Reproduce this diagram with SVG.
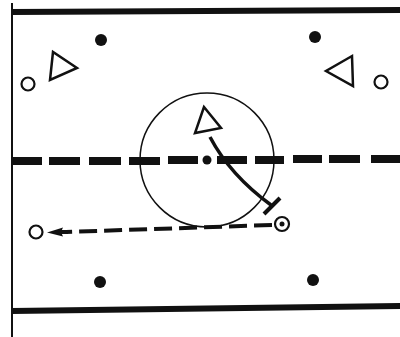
<svg xmlns="http://www.w3.org/2000/svg" width="400" height="337" viewBox="0 0 400 337">
<style>
.border{stroke:#111;fill:none}
.dot{fill:#111}
.ring{fill:none;stroke:#111;stroke-width:2.2}
.tri{fill:none;stroke:#111;stroke-width:2.5;stroke-linejoin:miter}
.dash{fill:#111}
</style>
<rect width="400" height="337" fill="#fff"/>
<g id="rink">
<line class="border" x1="12" y1="3" x2="12" y2="337" stroke-width="2"/>
<polygon class="dash" points="12,9 400,7 400,13 12,15"/>
<polygon class="dash" points="12,308 400,303 400,309 12,314"/>
<g id="centerline">
<rect class="dash" x="12" y="157" width="30" height="8"/>
<rect class="dash" x="49" y="157" width="31" height="8"/>
<rect class="dash" x="89" y="157" width="32" height="8"/>
<rect class="dash" x="129" y="157" width="31" height="8"/>
<rect class="dash" x="168" y="156" width="30" height="8"/>
<rect class="dash" x="217" y="156" width="30" height="8"/>
<rect class="dash" x="255" y="156" width="29" height="8"/>
<rect class="dash" x="293" y="155" width="29" height="8"/>
<rect class="dash" x="329" y="155" width="31" height="8"/>
<rect class="dash" x="371" y="155" width="29" height="8"/>
</g>
<circle cx="207" cy="160" r="67" fill="none" stroke="#111" stroke-width="1.5"/>
<circle class="dot" cx="207" cy="160" r="4.5"/>
</g>
<g id="faceoff-dots">
<circle class="dot" cx="101" cy="40" r="6"/>
<circle class="dot" cx="315" cy="37" r="6"/>
<circle class="dot" cx="100" cy="282" r="6"/>
<circle class="dot" cx="313" cy="280" r="6"/>
</g>
<g id="player-left-o"><circle class="ring" cx="28" cy="84" r="6.5"/></g>
<g id="player-right-o"><circle class="ring" cx="381" cy="82" r="6.5"/></g>
<g id="player-left-tri"><polygon class="tri" points="53,52 50,80 77,68"/></g>
<g id="player-right-tri"><polygon class="tri" points="352,56 353,86 326,71"/></g>
<g id="player-center-tri"><polygon class="tri" points="204,107 195,133 221,128"/></g>
<g id="player-target"><circle class="ring" cx="282" cy="224" r="7"/><circle class="dot" cx="282" cy="224" r="2.5"/></g>
<g id="player-pass-o"><circle class="ring" cx="36" cy="232" r="6.5"/></g>
<g id="connectors">
<path d="M210,137 Q230,175 271,205" fill="none" stroke="#111" stroke-width="3.5"/>
<line x1="264" y1="214" x2="280" y2="198" stroke="#111" stroke-width="4"/>
<line x1="272" y1="225" x2="66" y2="232" stroke="#111" stroke-width="4" stroke-dasharray="18 7"/>
<polygon class="dash" points="47,232.5 63,227.5 61,232 63,236.5"/>
<line x1="60" y1="232" x2="68" y2="232" stroke="#111" stroke-width="4"/>
</g>
</svg>
